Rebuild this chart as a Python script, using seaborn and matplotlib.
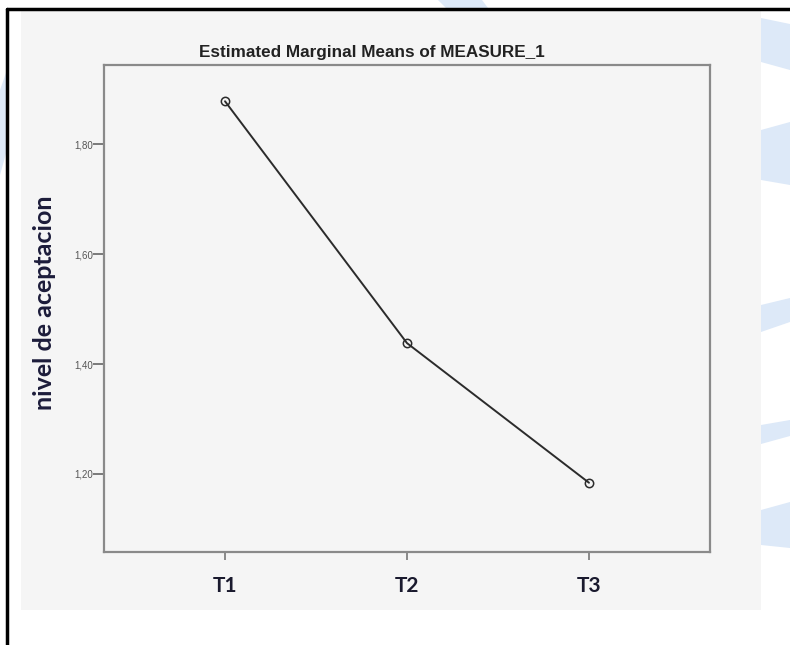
import matplotlib
matplotlib.use("Agg")
import matplotlib.pyplot as plt
from matplotlib.patches import Rectangle, Polygon
import seaborn as sns
import pandas as pd

# Data
categories = ["T1", "T2", "T3"]
values = [1.878, 1.438, 1.184]
ytick_values = [1.20, 1.40, 1.60, 1.80]
ytick_labels = ["1,20", "1,40", "1,60", "1,80"]
title_text = "Estimated Marginal Means of MEASURE_1"
ylabel_text = "nivel de aceptacion"

df = pd.DataFrame({"tiempo": categories, "valor": values})

sns.set_style("white")
plt.rcParams["font.family"] = ["Liberation Sans", "DejaVu Sans"]

W, H = 790, 645
fig = plt.figure(figsize=(W / 100, H / 100), dpi=100)
fig.patch.set_facecolor("white")

def px(x, y):
    return (x / W, 1 - y / H)

# light blue watermark shapes (background of screenshot)
wm = "#dde9f8"
for poly in [
    [(438, 0), (482, 0), (488, 8), (446, 8)],
    [(1020, 0), (1060, 0), (1064, 8), (1026, 8)],
    [(0, 90), (7, 70), (7, 150), (0, 175)],
    [(761, 18), (790, 24), (790, 70), (761, 62)],
    [(761, 130), (790, 122), (790, 185), (761, 180)],
    [(761, 305), (790, 298), (790, 322), (761, 332)],
    [(761, 425), (790, 420), (790, 436), (761, 444)],
    [(761, 510), (790, 502), (790, 548), (761, 545)],
]:
    fig.patches.append(Polygon([px(*p) for p in poly], closed=True, transform=fig.transFigure,
                               facecolor=wm, edgecolor="none", zorder=0))

# gray screenshot region
fig.patches.append(Rectangle((21 / W, 1 - 610 / H), (761 - 21) / W, (610 - 10) / H,
                             transform=fig.transFigure, facecolor="#f5f5f5",
                             edgecolor="none", zorder=0.5))
# black border top and left
fig.add_artist(plt.Line2D([7 / W, 7 / W], [0, 1 - 9 / H], transform=fig.transFigure,
                          color="black", lw=2.5, zorder=1))
fig.add_artist(plt.Line2D([7 / W, 1], [1 - 9 / H, 1 - 9 / H], transform=fig.transFigure,
                          color="black", lw=2.5, zorder=1))

ax = fig.add_axes([104 / W, 1 - 552 / H, (710 - 104) / W, (552 - 65) / H])
ax.set_zorder(3)
ax.set_facecolor("#f5f5f5")

sns.lineplot(data=df, x="tiempo", y="valor", ax=ax, color="#2b2b2b", lw=1.4,
             marker="o", markersize=6, markerfacecolor="none",
             markeredgecolor="#2b2b2b", markeredgewidth=1.1)

ax.set_xlim(-0.665, 2.665)
ax.set_ylim(1.058, 1.944)
ax.set_yticks(ytick_values)
ax.set_yticklabels(ytick_labels)
ax.set_xticks(range(len(categories)))
ax.set_xticklabels(categories)

for s in ax.spines.values():
    s.set_color("#8a8a8a")
    s.set_linewidth(1.6)
    s.set_visible(True)

ax.tick_params(axis="y", direction="out", length=8, width=1.2, color="#666666",
               labelsize=7, labelcolor="#555555", pad=0, left=True)
ax.tick_params(axis="x", direction="out", length=6, width=1.2, color="#777777",
               labelsize=15, labelcolor="#1a1a2e", pad=11, bottom=True)
for t in ax.get_xticklabels():
    t.set_fontfamily(["Lato", "DejaVu Sans"])
    t.set_fontweight("bold")

ax.set_xlabel("")
ax.set_ylabel("")

fig.text(372 / W, 1 - 52 / H, title_text, ha="center", va="center",
         fontsize=12.3, fontweight="bold", color="#222222", zorder=3)
fig.text(45 / W, 1 - 303 / H, ylabel_text, ha="center", va="center", rotation=90,
         fontsize=18, fontweight="bold", color="#1c1c3a", family=["Lato", "DejaVu Sans"],
         zorder=3)

fig.savefig("out.png", dpi=100)
